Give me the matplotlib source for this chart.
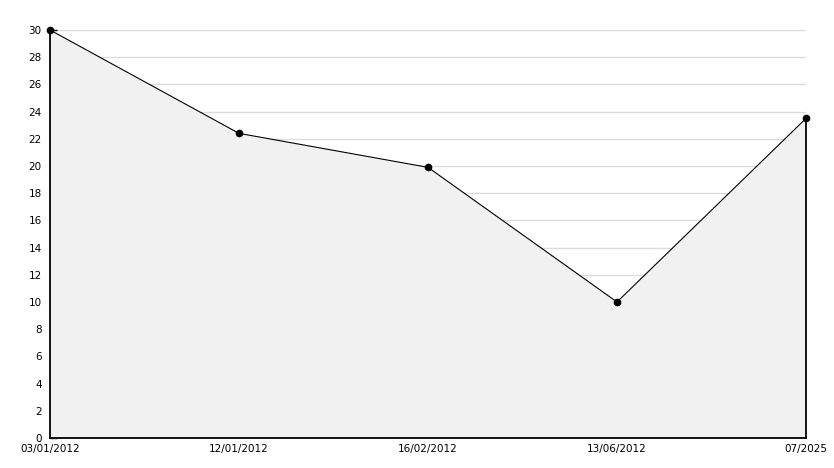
import numpy as np
import matplotlib.pyplot as plt
from matplotlib.ticker import MultipleLocator

# chart data
dates = ["03/01/2012", "12/01/2012", "16/02/2012", "13/06/2012", "07/2025"]
values = [30, 22.4, 19.9, 10, 23.5]

fig = plt.figure(figsize=(8.34, 4.68), dpi=100)
ax = fig.add_axes([50 / 834, 30 / 468, 756 / 834, 408 / 468])

x = np.arange(len(dates))
ax.fill_between(x, values, 0, color="#f1f1f1", lw=0, zorder=1)
ax.plot(x, values, color="black", lw=0.8, zorder=3)
ax.plot(x, values, ls="none", marker="o", ms=4.5, color="black", zorder=6, clip_on=False)
# drop line at the last point
ax.vlines(x[-1], 0, values[-1], color="black", lw=1.3, zorder=3, clip_on=False)

ax.set_xlim(0, len(dates) - 1)
ax.set_ylim(0, 30)
ax.set_xticks(x)
ax.set_xticklabels(dates)
ax.yaxis.set_major_locator(MultipleLocator(2))
ax.yaxis.set_minor_locator(MultipleLocator(1))
ax.grid(axis="y", color="#dcdcdc", lw=1, zorder=0)
ax.set_axisbelow(True)

for s in ["top", "right"]:
    ax.spines[s].set_visible(False)
for s in ["left", "bottom"]:
    ax.spines[s].set_linewidth(1.3)
    ax.spines[s].set_zorder(5)

ax.tick_params(axis="y", which="both", direction="in", length=5, width=1, labelsize=7.5, pad=6)
ax.tick_params(axis="x", which="major", direction="in", length=6, width=1, labelsize=7.5, pad=4)
xt = ax.xaxis.get_major_ticks()
xt[0].tick1line.set_visible(False)
xt[-1].tick1line.set_visible(False)

fig.savefig("out.png", dpi=100, facecolor="white")
